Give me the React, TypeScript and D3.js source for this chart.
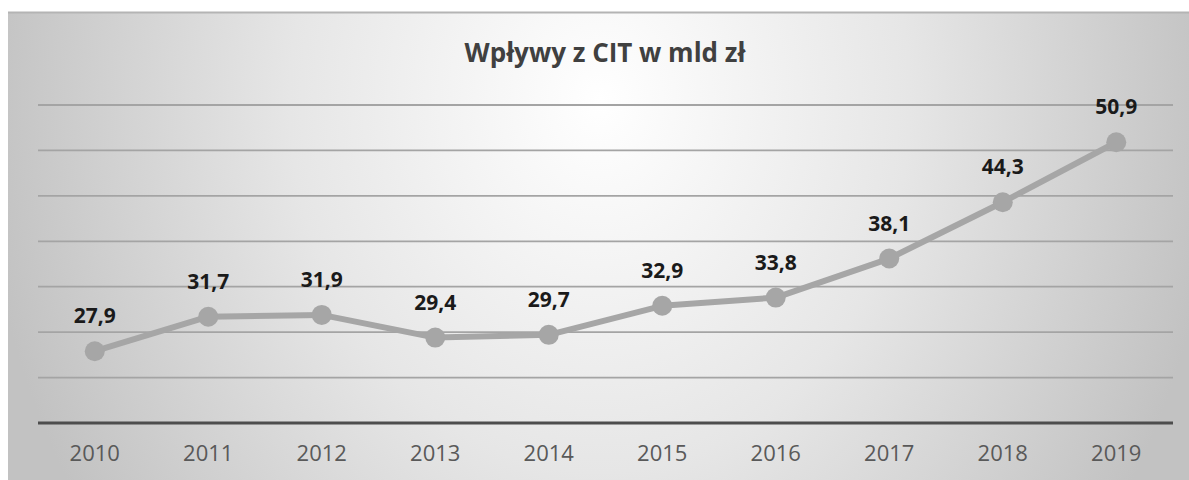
import * as d3 from 'd3';

const years = ['2010', '2011', '2012', '2013', '2014', '2015', '2016', '2017', '2018', '2019'];
const values = [27.9, 31.7, 31.9, 29.4, 29.7, 32.9, 33.8, 38.1, 44.3, 50.9];
const gridTicks = [25, 30, 35, 40, 45, 50, 55];

const W = 1189;
const H = 480;
const left = 38;
const right = 1173;
const top = 105;
const bottom = 423;

export default function App() {
  const x = d3.scaleBand().domain(years).range([left, right]);
  const y = d3.scaleLinear().domain([20, 55]).range([bottom, top]);
  const cx = (yr: string) => x(yr)! + x.bandwidth() / 2;

  const line = d3
    .line<number>()
    .x((_, i) => cx(years[i]))
    .y((d) => y(d));

  const fmt = (v: number) => v.toFixed(1).replace('.', ',');
  const font = '"Open Sans", "Noto Sans", sans-serif';

  return (
    <svg
      width={W}
      height={H}
      style={{ position: 'absolute', left: 0, top: 0, display: 'block' }}
    >
      <defs>
        <radialGradient
          id="bg"
          gradientUnits="userSpaceOnUse"
          cx={600}
          cy={100}
          r={620}
          gradientTransform="translate(600,100) scale(1,1.2) translate(-600,-100)"
        >
          <stop offset="0%" stopColor="#ffffff" />
          <stop offset="50%" stopColor="#e6e6e6" />
          <stop offset="100%" stopColor="#c2c2c2" />
        </radialGradient>
      </defs>
      <rect x={0} y={0} width={W} height={H} fill="#ffffff" />
      <rect x={8} y={12} width={W - 8} height={H - 12} fill="url(#bg)" />
      <line x1={8} x2={W} y1={12.5} y2={12.5} stroke="#b4b4b4" strokeWidth={2} />

      <text
        x={605}
        y={62}
        textAnchor="middle"
        fontFamily={font}
        fontSize={26}
        fontWeight={700}
        fill="#404040"
      >
        Wpływy z CIT w mld zł
      </text>

      {gridTicks.map((t) => (
        <line
          key={t}
          x1={left}
          x2={right}
          y1={y(t)}
          y2={y(t)}
          stroke="#a4a4a4"
          strokeWidth={1.8}
        />
      ))}
      <line x1={left} x2={right} y1={bottom} y2={bottom} stroke="#4d4d4d" strokeWidth={3} />

      {years.map((yr) => (
        <text
          key={yr}
          x={cx(yr)}
          y={461}
          textAnchor="middle"
          fontFamily={font}
          fontSize={22}
          fill="#595959"
        >
          {yr}
        </text>
      ))}

      <path d={line(values)!} fill="none" stroke="#a6a6a6" strokeWidth={6} strokeLinejoin="round" />
      {values.map((v, i) => (
        <circle key={i} cx={cx(years[i])} cy={y(v)} r={10} fill="#a6a6a6" />
      ))}
      {values.map((v, i) => (
        <text
          key={'l' + i}
          x={cx(years[i])}
          y={y(v) - 28}
          textAnchor="middle"
          fontFamily={font}
          fontSize={21}
          fontWeight={700}
          fill="#1a1a1a"
        >
          {fmt(v)}
        </text>
      ))}
    </svg>
  );
}
